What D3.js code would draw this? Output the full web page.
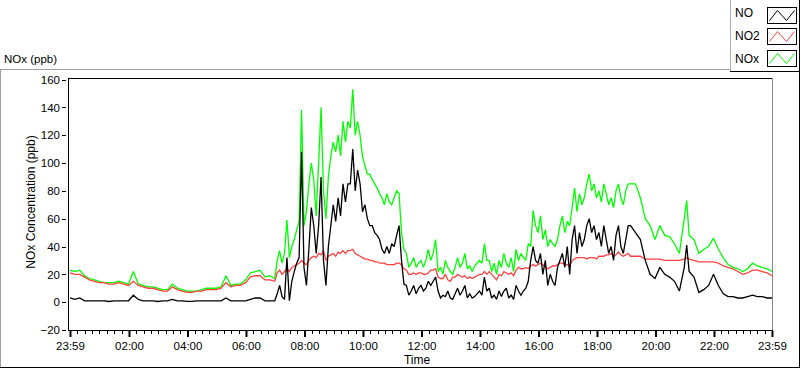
<!DOCTYPE html>
<html>
<head>
<meta charset="utf-8">
<script src="https://cdn.jsdelivr.net/npm/d3@7"></script>
<style>
  html, body { margin: 0; padding: 0; background: #fff; }
  svg { display: block; font-family: "Liberation Sans", Arial, sans-serif; }
</style>
</head>
<body>
<svg id="chart" width="800" height="369"></svg>
<script>
// ---- data (minutes after 23:59 of previous day) ----
const minutes = [0,10,20,30,40,50,60,70,80,90,100,110,120,130,140,150,160,170,180,190,200,210,220,230,240,250,260,270,280,290,300,310,320,330,340,350,360,370,380,390,400,410,420,
425,430,435,440,445,450,455,460,465,470,475,480,485,490,495,500,505,510,515,520,525,530,535,540,545,550,555,560,565,570,575,580,585,590,595,600,
605,610,615,620,625,630,635,640,645,650,655,660,665,670,675,680,685,690,695,700,705,710,715,720,725,730,735,740,745,750,755,760,765,770,775,780,
785,790,795,800,805,810,815,820,825,830,835,840,845,850,855,860,865,870,875,880,885,890,895,900,905,910,915,920,925,930,935,940,945,950,955,960,
965,970,975,980,985,990,995,1000,1005,1010,1015,1020,1025,1030,1035,1040,1045,1050,1055,1060,1065,1070,1075,1080,1085,1090,1095,1100,1105,1110,1115,1120,1125,1130,1135,1140,1145,1150,
1160,1170,1180,1190,1200,1210,1220,1230,1240,1250,1260,1265,1270,1280,1290,1300,1310,1320,1330,1340,1350,1360,1370,1380,1390,1400,1410,1420,1430,1440];

const noxValues = [23,22,23,19,17,16,15,14,14,14,15,14,13,22,13,12,11,11,10,9,9,13,10,9,8,8,8,9,10,10,10,11,19,12,13,13,16,21,22,23,18,19,17,
30,37,28,35,59,32,40,45,52,58,138,55,65,85,100,88,62,100,140,80,60,90,105,115,108,120,105,130,115,130,125,153,120,130,120,105,
98,92,92,88,85,82,78,75,70,78,72,70,75,80,78,50,38,35,25,28,32,25,28,30,25,30,38,30,35,45,22,25,20,30,25,22,
20,25,32,25,28,35,24,26,22,26,28,30,28,42,30,30,22,28,20,30,25,35,28,25,32,22,38,30,35,32,30,42,40,66,55,50,
62,45,52,40,45,42,40,45,55,62,50,58,55,68,82,65,78,70,75,85,92,80,85,75,80,72,85,78,70,75,68,80,85,75,70,80,85,85,
85,75,60,55,45,55,48,47,42,35,60,73,48,45,35,38,40,46,38,32,27,25,24,22,24,28,26,25,24,22];

const no2Values = [21,20,20,18,16,15,14,14,13,13,14,13,12,15,12,11,10,10,9,8,8,11,9,8,7,7,8,8,9,9,9,10,14,11,12,12,14,18,19,19,16,16,15,
21,23,20,22,24,22,25,26,27,28,30,28,27,30,32,33,32,35,34,37,30,33,34,35,33,36,35,37,35,37,37,38,35,34,33,32,
31,31,30,30,29,29,28,28,28,27,27,27,27,28,28,27,24,23,20,20,21,20,21,21,20,20,21,23,23,24,18,17,17,20,16,15,
18,18,20,19,18,19,17,18,17,18,19,20,20,22,20,22,20,18,16,20,19,22,21,20,21,19,23,25,24,24,25,24,26,27,26,27,
28,27,25,24,25,26,26,27,28,28,27,27,26,30,31,32,32,32,32,31,32,32,32,31,33,33,33,34,34,35,33,34,36,34,33,34,35,33,
33,33,31,31,31,31,30,30,30,30,31,32,31,30,29,29,29,29,28,26,25,24,22,20,21,23,23,22,21,19];

const noValues = [3,2,3,1,1,1,1,1,0.5,1,1,1,1,5,2,1,1,1,0.5,1,1,2,1,1,0.5,0.5,1,1,1,1,1,1,3,1,1,1,1,2,3,3,1,1,1,
6,12,4,2,32,1,15,22,28,32,108,25,12,38,68,55,35,55,90,30,12,40,55,70,58,75,62,85,72,85,85,110,80,95,85,65,
70,60,55,55,50,48,45,38,35,40,35,42,40,48,55,30,13,12,5,8,12,6,10,12,8,10,15,12,15,18,8,3,5,4,8,3,
2,6,10,5,8,12,3,6,3,4,6,8,5,18,8,10,3,5,2,8,4,8,10,3,5,2,12,8,5,8,10,15,30,40,30,28,
35,20,30,12,20,15,12,25,30,35,25,40,20,45,55,35,50,40,45,55,60,50,55,45,50,40,55,45,35,40,30,48,55,40,35,45,55,55,
50,45,30,20,17,25,20,18,15,8,25,41,22,18,7,9,12,20,12,6,4,4,3,3,4,5,4,4,3,3];

const yTicks = [-20,0,20,40,60,80,100,120,140,160];
const xTickLabels = ["23:59","02:00","04:00","06:00","08:00","10:00","12:00","14:00","16:00","18:00","20:00","22:00","23:59"];
const seriesNames = ["NO","NO2","NOx"];
const seriesColors = ["#000000","#ff4040","#00ff00"];

// ---- setup ----
const svg = d3.select("#chart");
const start = new Date(2020,0,1,23,59);
const end = new Date(2020,0,2,23,59);
const toDate = m => new Date(start.getTime() + m*60000);

const plotLeft = 70, plotRight = 772, plotTop = 79.5, plotBottom = 330;
const x = d3.scaleTime().domain([start, end]).range([plotLeft, plotRight]);
const y = d3.scaleLinear().domain([-20, 160]).range([plotBottom, plotTop]);

// outer frame
svg.append("line").attr("x1",0).attr("x2",730).attr("y1",69.5).attr("y2",69.5).attr("stroke","#a0a0a0");
svg.append("line").attr("x1",0.5).attr("x2",0.5).attr("y1",69).attr("y2",368).attr("stroke","#a0a0a0");
svg.append("line").attr("x1",0).attr("x2",800).attr("y1",367.5).attr("y2",367.5).attr("stroke","#000");
svg.append("line").attr("x1",799.5).attr("x2",799.5).attr("y1",0).attr("y2",368).attr("stroke","#000");

// title
svg.append("text").attr("x",4).attr("y",63).attr("font-size",11.5).text("NOx (ppb)");

// plot box
svg.append("line").attr("x1",68.5).attr("x2",772.5).attr("y1",78.5).attr("y2",78.5).attr("stroke","#000");
svg.append("line").attr("x1",772.5).attr("x2",772.5).attr("y1",78).attr("y2",330).attr("stroke","#888");

// series data
const data = [noValues, no2Values, noxValues].map(vals => minutes.map((m,i) => [toDate(m), vals[i]]));
const line = d3.line().x(d => x(d[0])).y(d => y(d[1]));
const plot = svg.append("g");
[2,1,0].forEach(k => {
  plot.append("path").datum(data[k]).attr("d", line)
    .attr("fill","none").attr("stroke",seriesColors[k]).attr("stroke-width",1.3)
    .attr("stroke-linejoin","miter").attr("stroke-miterlimit",2);
});

// axes lines
svg.append("line").attr("x1",68.5).attr("x2",68.5).attr("y1",78).attr("y2",331).attr("stroke","#000");
svg.append("line").attr("x1",68).attr("x2",773).attr("y1",330.5).attr("y2",330.5).attr("stroke","#000");

// y axis
const yAxis = d3.axisLeft(y).tickValues(yTicks).tickSize(4).tickPadding(2).tickFormat(d3.format("d"));
const gy = svg.append("g").attr("transform","translate(66,0)").call(yAxis);
gy.select(".domain").remove();
gy.selectAll("text").attr("font-size",11.5).attr("font-family","Liberation Sans, Arial, sans-serif").attr("fill","#000");
gy.selectAll("line").attr("stroke","#000").attr("shape-rendering","crispEdges");

// x axis
const majors = xTickLabels.map((lab,i) => i===0 ? start : (i===xTickLabels.length-1 ? end : new Date(2020,0,2,i*2,0)));
const minors = [];
for (let i=0;i<majors.length-1;i++){
  const a = majors[i].getTime(), b = majors[i+1].getTime();
  for (let k=1;k<8;k++) minors.push(new Date(a + (b-a)*k/8));
}
const xMinor = d3.axisBottom(x).tickValues(minors).tickSize(3).tickFormat("");
const gxm = svg.append("g").attr("transform","translate(0,331)").call(xMinor);
gxm.select(".domain").remove();
gxm.selectAll("line").attr("stroke","#000").attr("shape-rendering","crispEdges");
const xAxis = d3.axisBottom(x).tickValues(majors).tickSize(6).tickPadding(5)
  .tickFormat((d,i) => xTickLabels[i]);
const gx = svg.append("g").attr("transform","translate(0,331)").call(xAxis);
gx.select(".domain").remove();
gx.selectAll("line").attr("stroke","#000").attr("stroke-width",2);
gx.selectAll("text").attr("font-size",11.5).attr("font-family","Liberation Sans, Arial, sans-serif").attr("fill","#000");

// axis titles
svg.append("text").attr("x",417).attr("y",364).attr("text-anchor","middle").attr("font-size",12).text("Time");
svg.append("text").attr("transform","translate(35,202) rotate(-90)").attr("text-anchor","middle").attr("font-size",12).text("NOx Concentration (ppb)");

// legend
const lg = svg.append("g");
lg.append("rect").attr("x",730.5).attr("y",-1).attr("width",69).attr("height",72.5).attr("fill","#fff").attr("stroke","#b0b0b0");
lg.append("line").attr("x1",730).attr("x2",800).attr("y1",71.5).attr("y2",71.5).attr("stroke","#000");
lg.append("line").attr("x1",799.5).attr("x2",799.5).attr("y1",0).attr("y2",72).attr("stroke","#000");
const swY = [7, 28, 50];
const textY = [17, 39.5, 63];
seriesNames.forEach((n,i) => {
  lg.append("text").attr("x",735).attr("y",textY[i]).attr("font-size",12).text(n);
  lg.append("rect").attr("x",767.5).attr("y",swY[i]+0.5).attr("width",29).attr("height",16)
    .attr("fill","#fff").attr("stroke","#000");
  const pts = [[2,13],[10,3],[19,13],[27,3]].map(p => [767.5+p[0], swY[i]+0.5+p[1]]);
  lg.append("path").attr("d", d3.line()(pts)).attr("fill","none").attr("stroke",seriesColors[i]);
});
</script>
</body>
</html>
